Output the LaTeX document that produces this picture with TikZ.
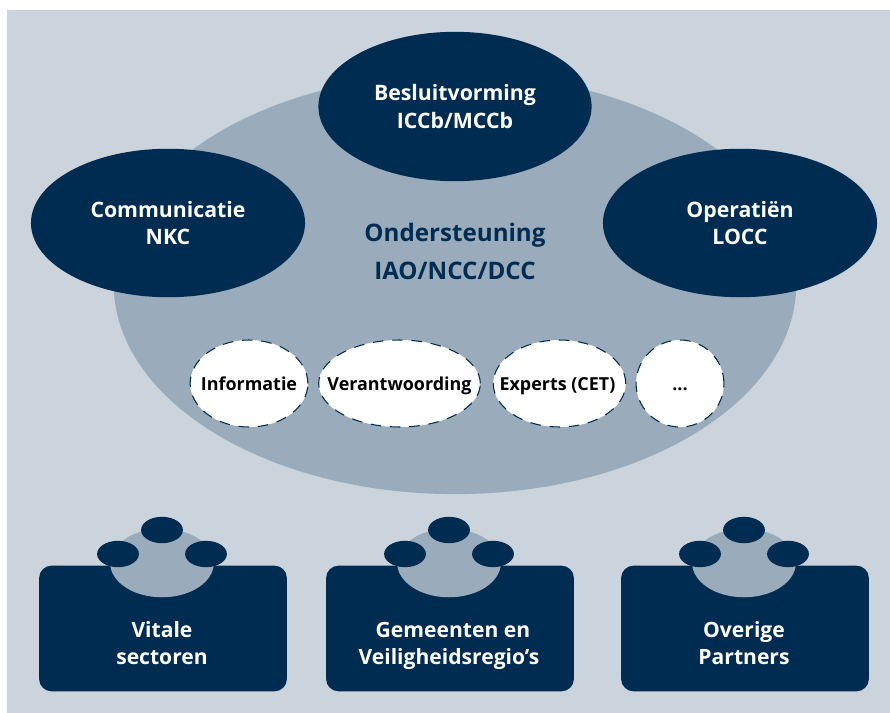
\documentclass[tikz,border=0pt]{standalone}
\usepackage{fontspec}
\setmainfont{Open Sans}
\usetikzlibrary{shapes.geometric}
\definecolor{achtergrond}{HTML}{CBD3DC}
\definecolor{midden}{HTML}{9AACBB}
\definecolor{donker}{HTML}{002C51}
\tikzset{
  kern/.style={ellipse,fill=donker,text=white,font=\fontsize{12.1}{15.5}\selectfont\bfseries,align=center,inner sep=0pt},
  hulp/.style={ellipse,fill=white,draw=donker,line width=0.6pt,dash pattern=on 6pt off 5pt,font=\fontsize{10.2}{12}\selectfont\bfseries,text=black,inner sep=-13pt,text height=7.5pt,text depth=0pt,minimum height=49.5pt},
  partner/.style={rectangle,rounded corners=7pt,fill=donker,minimum width=141pt,minimum height=71.5pt},
  schijf/.style={ellipse,fill=midden,minimum width=59pt,minimum height=39pt,inner sep=0pt},
  stip/.style={ellipse,fill=donker,minimum width=23.8pt,minimum height=15pt,inner sep=0pt},
  onder/.style={text=white,font=\fontsize{12}{15.5}\selectfont\bfseries,align=center,inner sep=0pt}
}
\begin{document}
\begin{tikzpicture}[x=0.02cm,y=-0.02cm]
   \useasboundingbox (0,0) rectangle (890,713);
   \fill[white] (0,0) rectangle (890,713);
   \fill[achtergrond] (7,10) rectangle (890,713);
   \node[ellipse,fill=midden,inner sep=0pt,minimum width=388.5pt,minimum height=239.2pt] (midden) at (455,284) {};
   \node[kern,minimum width=155.5pt,minimum height=85pt] (besluit) at (455,106.5) {Besluitvorming\\ICCb/MCCb};
   \node[kern,minimum width=156pt,minimum height=84.5pt] (communicatie) at (168,223) {Communicatie\\NKC};
   \node[kern,minimum width=156pt,minimum height=84.5pt] (operatien) at (740,223) {Operatiën\\LOCC};
   \node[text=donker,font=\fontsize{13.75}{21.5}\selectfont\bfseries,align=center,inner sep=0pt] (steun) at (455,251.5) {Ondersteuning\\IAO/NCC/DCC};
   \node[hulp,minimum width=67pt] (informatie) at (249,383.5) {Informatie};
   \node[hulp,minimum width=92pt] (verantwoording) at (399.5,383.5) {Verantwoording};
   \node[hulp,minimum width=75.4pt] (experts) at (559.5,383.5) {Experts (CET)\hspace*{2.3pt}};
   \node[hulp,minimum width=50pt] (meer) at (680,383.5) {...};
   \foreach \naam/\x/\bx/\tx/\ty/\tekst in {vitaal/162/163/162/643/{Vitale\\sectoren},gemeente/449/450/449/646/{\hspace*{4.5pt}Gemeenten en\\Veiligheidsregio’s},overig/744/745/744/643/{Overige\\Partners}} {
    \node[partner] (\naam) at (\bx,628.5) {};
    \node[schijf] (\naam s) at (\x,563) {};
    \node[stip] (\naam a) at (\x,530) {};
    \node[stip] (\naam b) at (\x-44,554) {};
    \node[stip] (\naam c) at (\x+44,554) {};
    \node[onder] (\naam t) at (\tx,\ty) {\tekst};
   }
  \end{tikzpicture}
\end{document}
